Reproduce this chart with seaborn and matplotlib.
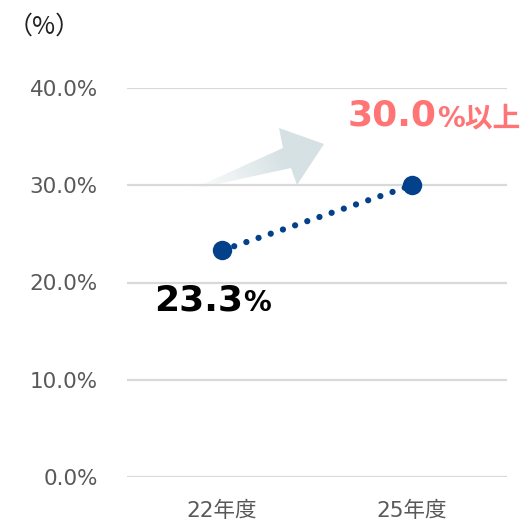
import numpy as np
import pandas as pd
import matplotlib
matplotlib.use("Agg")
import matplotlib.pyplot as plt
import seaborn as sns
from matplotlib.patches import Polygon
from matplotlib.colors import LinearSegmentedColormap

# ---- data ----
categories = ["22年度", "25年度"]
values = [23.3, 30.0]
y_ticks = [0, 10, 20, 30, 40]
y_tick_labels = ["0.0%", "10.0%", "20.0%", "30.0%", "40.0%"]
label_start = "23.3"
label_target_num = "30.0"
label_target_suffix = "%以上"

sns.set_theme(style="white")
plt.rcParams["font.family"] = ["DejaVu Sans", "Noto Sans CJK JP"]

W, H = 529, 525
fig = plt.figure(figsize=(W / 100, H / 100), dpi=100, facecolor="white")
ax = fig.add_axes([127 / W, 1 - 477 / H, (507 - 127) / W, (477 - 88) / H])
ax.patch.set_alpha(0)

df = pd.DataFrame({"cat": categories, "val": values})
navy = "#03418A"
sns.lineplot(data=df, x="cat", y="val", ax=ax, color=navy, lw=4.5,
             marker="o", markersize=14, markeredgewidth=0, sort=False)
line = ax.lines[0]
line.set_linestyle((0, (0.01, 2.05)))
line.set_dash_capstyle("round")

ax.set_xlim(-0.5, 1.5)
ax.set_ylim(0, 40)
ax.set_yticks(y_ticks)
ax.set_yticklabels(y_tick_labels)
for y in y_ticks:
    ax.axhline(y, color="#d9d9d9", lw=1.6, zorder=0)
for s in ax.spines.values():
    s.set_visible(False)
ax.tick_params(axis="both", length=0, labelsize=15.5, colors="#595959")
ax.tick_params(axis="y", pad=21)
ax.tick_params(axis="x", pad=17)
ax.set_xlabel("")
ax.set_ylabel("")

# unit label
fig.text(8 / W, 1 - 27 / H, "（%）", fontsize=18, color="#222222",
         ha="left", va="center", family=["Noto Sans CJK JP", "DejaVu Sans"])

# value labels
t1 = ax.annotate(label_start, xy=(0, values[0]), xytext=(-68, -60),
                 textcoords="offset pixels", fontsize=26, fontweight="bold",
                 color="black", ha="left", va="baseline")
ax.annotate("%", xy=(1, 0), xycoords=t1, xytext=(0, 0),
            textcoords="offset pixels", fontsize=20, fontweight="bold",
            color="black", ha="left", va="bottom")
salmon = "#FF7575"
t2 = ax.annotate(label_target_num, xy=(1, values[1]), xytext=(-64, 60),
                 textcoords="offset pixels", fontsize=26, fontweight="bold",
                 color=salmon, ha="left", va="baseline")
ax.annotate(label_target_suffix, xy=(1, 0), xycoords=t2, xytext=(0, 0),
            textcoords="offset pixels", fontsize=20, fontweight="bold",
            color=salmon, ha="left", va="bottom",
            family=["DejaVu Sans", "Noto Sans CJK JP"])

# decorative gradient arrow (overlay in pixel coordinates)
ov = fig.add_axes([0, 0, 1, 1], zorder=-1)
ov.set_xlim(0, W)
ov.set_ylim(H, 0)
ov.axis("off")
ov.patch.set_alpha(0)
pts = np.array([(190, 190), (283, 148), (279, 128), (324, 144),
                (297, 185), (291, 168)])
poly = Polygon(pts, closed=True, fc="none", ec="none")
ov.add_patch(poly)
x0, x1 = 185, 330
y0, y1 = 120, 195
gx, gy = np.meshgrid(np.linspace(x0, x1, 200), np.linspace(y0, y1, 120))
d = np.array([324 - 190, 144 - 190], float)
d /= np.linalg.norm(d)
proj = (gx - 190) * d[0] + (gy - 190) * d[1]
proj = np.clip(proj / 100.0, 0, 1)
cmap = LinearSegmentedColormap.from_list("g", ["#ffffff", "#d6e1e4"])
im = ov.imshow(proj, extent=(x0, x1, y1, y0), cmap=cmap, vmin=0, vmax=1,
               aspect="auto", interpolation="bilinear")
im.set_clip_path(poly)

fig.savefig("out.png", dpi=100, facecolor="white")
